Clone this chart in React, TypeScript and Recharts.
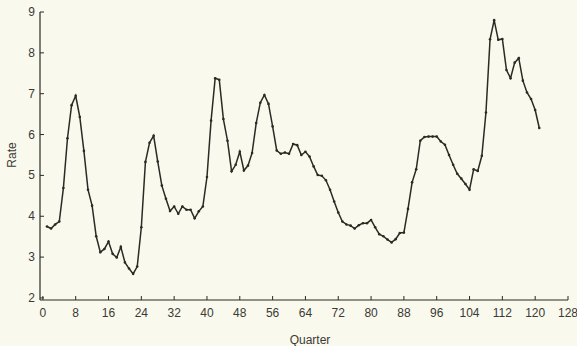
import React from 'react';
import { LineChart, Line, XAxis, YAxis } from 'recharts';

// Quarterly rate, quarters 1..121
const quarters: number[] = Array.from({ length: 121 }, (_, i) => i + 1);
const rates: number[] = [
  3.75, 3.7, 3.8, 3.87, 4.69, 5.91, 6.72, 6.95, 6.43, 5.6,
  4.65, 4.26, 3.51, 3.12, 3.2, 3.38, 3.08, 2.99, 3.25, 2.87,
  2.72, 2.59, 2.77, 3.73, 5.33, 5.8, 5.97, 5.34, 4.75, 4.43,
  4.13, 4.24, 4.06, 4.24, 4.16, 4.16, 3.95, 4.12, 4.24, 4.96,
  6.34, 7.38, 7.34, 6.38, 5.85, 5.1, 5.26, 5.58, 5.12, 5.24,
  5.55, 6.28, 6.78, 6.97, 6.75, 6.2, 5.61, 5.53, 5.56, 5.53,
  5.77, 5.74, 5.5, 5.58, 5.46, 5.22, 5.01, 4.99, 4.88, 4.65,
  4.36, 4.09, 3.87, 3.8, 3.77, 3.7, 3.78, 3.83, 3.83, 3.91,
  3.73, 3.56, 3.51, 3.43, 3.36, 3.44, 3.59, 3.6, 4.18, 4.83,
  5.15, 5.85, 5.94, 5.95, 5.95, 5.95, 5.83, 5.75, 5.5, 5.26,
  5.04, 4.92, 4.79, 4.65, 5.15, 5.11, 5.48, 6.54, 8.33, 8.8,
  8.32, 8.34, 7.58, 7.38, 7.76, 7.87, 7.32, 7.03, 6.87, 6.6,
  6.16,
];
const xTicks: number[] = [0, 8, 16, 24, 32, 40, 48, 56, 64, 72, 80, 88, 96, 104, 112, 120, 128];
const yTicks: number[] = [2, 3, 4, 5, 6, 7, 8, 9];

const data = quarters.map((q, i) => ({ quarter: q, rate: rates[i] }));

const INK = '#2b2a25';
const TEXT = '#3a3a36';
const FONT = '"Liberation Sans", Arial, sans-serif';

const XTick = (props: any) => {
  const { x, y, payload } = props;
  return (
    <g>
      <line x1={x} y1={y} x2={x} y2={y - 4} stroke={INK} strokeWidth={1} />
      <text x={x} y={y + 17} textAnchor="middle" fontSize={12} fill={TEXT} fontFamily={FONT}>
        {payload.value}
      </text>
    </g>
  );
};

const YTick = (props: any) => {
  const { x, y, payload } = props;
  return (
    <g>
      <line x1={x} y1={y} x2={x + 4} y2={y} stroke={INK} strokeWidth={1} />
      <text x={x - 5} y={y + 4} textAnchor="end" fontSize={12} fill={TEXT} fontFamily={FONT}>
        {payload.value}
      </text>
    </g>
  );
};

const Dot = (props: any) => {
  const { cx, cy, index } = props;
  return <circle key={index} cx={cx} cy={cy} r={1.3} fill={INK} />;
};

const RateLabel = () => (
  <text x={16} y={155} transform="rotate(-90 16 155)" textAnchor="middle" fontSize={12} fill={TEXT} fontFamily={FONT}>
    Rate
  </text>
);

const QuarterLabel = () => (
  <text x={310} y={344} textAnchor="middle" fontSize={12} fill={TEXT} fontFamily={FONT}>
    Quarter
  </text>
);

export default function App() {
  return (
    <div style={{ position: 'absolute', left: 0, top: 0, width: 577, height: 346, background: '#faf9ee' }}>
      <LineChart width={577} height={346} data={data} margin={{ top: 12, right: 9, bottom: 0, left: 0 }}>
        <XAxis
          dataKey="quarter"
          type="number"
          domain={[-0.7, 128]}
          ticks={xTicks}
          interval={0}
          height={46}
          tickSize={0}
          tickMargin={0}
          tickLine={false}
          axisLine={{ stroke: INK, strokeWidth: 1.2 }}
          tick={<XTick />}
          label={<QuarterLabel />}
        />
        <YAxis
          type="number"
          domain={[1.95, 9]}
          ticks={yTicks}
          interval={0}
          width={40}
          tickSize={0}
          tickMargin={0}
          tickLine={false}
          axisLine={{ stroke: INK, strokeWidth: 1.2 }}
          tick={<YTick />}
          label={<RateLabel />}
        />
        <Line
          type="linear"
          dataKey="rate"
          stroke={INK}
          strokeWidth={1.5}
          dot={<Dot />}
          activeDot={false}
          isAnimationActive={false}
        />
      </LineChart>
    </div>
  );
}
